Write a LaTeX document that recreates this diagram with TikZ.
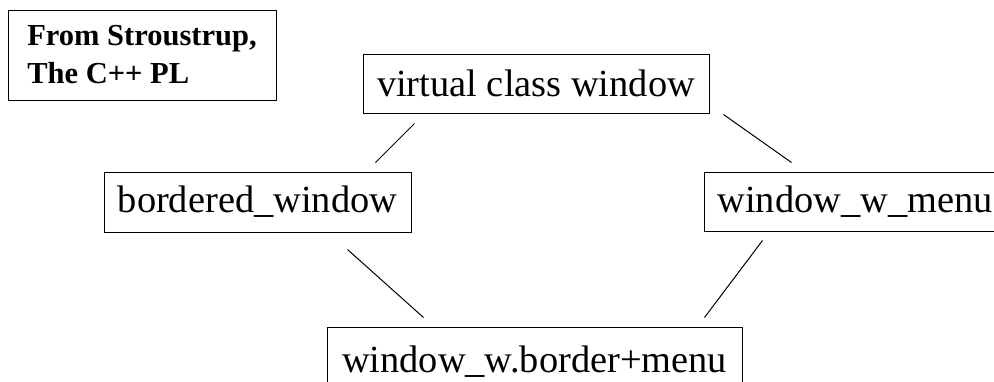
\documentclass[tikz,border=0pt]{standalone}
\usepackage{fontspec}
\setmainfont{Liberation Serif}
\usetikzlibrary{calc}

\tikzset{
  classbox/.style={draw, line width=1pt, inner sep=0pt, align=center,
    font=\fontsize{38.4}{46}\selectfont},
  notebox/.style={draw, line width=1pt, inner sep=0pt, align=left,
    font=\fontsize{30.5}{38}\selectfont\bfseries},
  link/.style={line width=1pt}
}

\begin{document}
\begin{tikzpicture}[x=1pt, y=-1pt]
  % page frame
  \path[use as bounding box, fill=white] (0,0) rectangle (994,381);
  \clip (0,0) rectangle (994,381);

  % source note
  \node[notebox, minimum width=268pt, minimum height=90pt] (note) at (142,55)
    {From Stroustrup,\\The C++ PL};

  % class hierarchy
  \node[classbox, minimum width=346pt, minimum height=59pt] (vcw) at (536,83.5)
    {virtual class window};
  \node[classbox, minimum width=307pt, minimum height=60pt] (bw) at (257.5,202)
    {bordered\_window};
  \node[classbox, minimum width=302pt, minimum height=59pt] (wwm) at (855,201.5)
    {window\_w\_menu};
  \node[classbox, minimum width=415pt, minimum height=69pt] (wbm) at (534.5,361.5)
    {window\_w.border+menu};

  % inheritance links
  \draw[link] ($(vcw.south west)+(52,10)$) -- ($(bw.north east)+(-36,-9)$);
  \draw[link] ($(vcw.south east)+(14,1)$) -- ($(wwm.north west)+(88,-9)$);
  \draw[link] ($(bw.south east)+(-64,17)$) -- ($(wbm.north west)+(97,-9)$);
  \draw[link] ($(wwm.south west)+(59,9)$) -- ($(wbm.north east)+(-38,-9)$);
\end{tikzpicture}
\end{document}
